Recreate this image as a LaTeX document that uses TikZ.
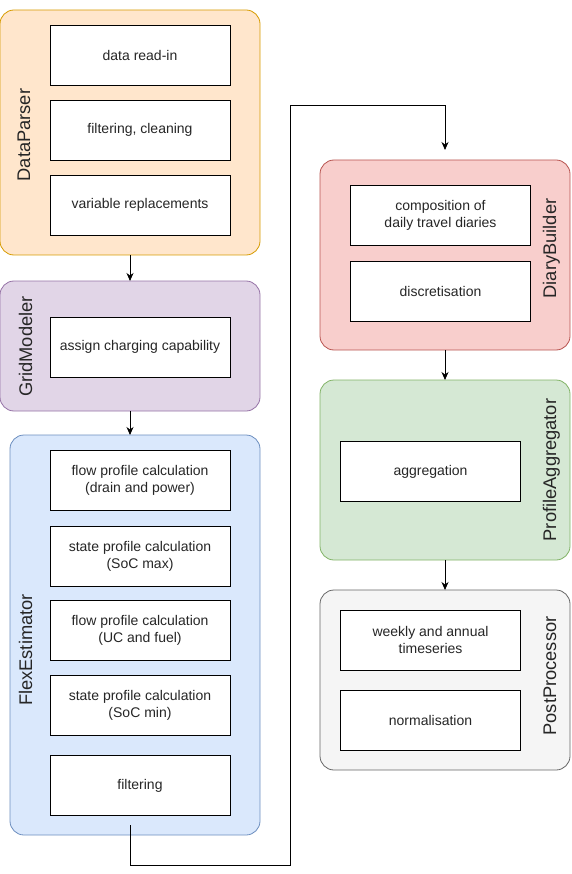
\documentclass[tikz,border=0pt]{standalone}
\usepackage{fontspec}
\setmainfont{Liberation Sans}
\usetikzlibrary{arrows.meta}
\begin{document}
\begin{tikzpicture}[x=1pt,y=-1pt,
  container/.style={draw, line width=0.8pt, rounded corners=14pt, inner sep=0pt, outer sep=0pt},
  step box/.style={draw=black, fill=white, line width=0.8pt, minimum width=180pt, minimum height=60pt,
    inner sep=0pt, align=center, font=\fontsize{14}{16.8}\selectfont, text=black!85},
  lane label/.style={rotate=90, anchor=base, inner sep=0pt, font=\fontsize{18.3}{20}\selectfont, text=black!85},
  arr/.style={draw=black, line width=0.8pt, -{Stealth[length=8pt,width=7pt,inset=2.5pt]}},
  conn/.style={draw=black, line width=0.8pt}]
\useasboundingbox (0,0) rectangle (571,874);

% containers
\node[container, draw={rgb,255:red,215;green,155;blue,0}, fill={rgb,255:red,255;green,230;blue,204},
  minimum width=260pt, minimum height=245pt] (dp) at (130,132.5) {};
\node[container, draw={rgb,255:red,150;green,115;blue,166}, fill={rgb,255:red,225;green,213;blue,231},
  minimum width=260pt, minimum height=130pt] (gm) at (130,346) {};
\node[container, draw={rgb,255:red,108;green,142;blue,191}, fill={rgb,255:red,218;green,232;blue,252},
  minimum width=250pt, minimum height=400pt] (fe) at (135,635) {};
\node[container, draw={rgb,255:red,184;green,84;blue,80}, fill={rgb,255:red,248;green,206;blue,204},
  minimum width=250pt, minimum height=190pt] (db) at (445,255) {};
\node[container, draw={rgb,255:red,130;green,179;blue,102}, fill={rgb,255:red,213;green,232;blue,212},
  minimum width=250pt, minimum height=180pt] (pa) at (445,470) {};
\node[container, draw={rgb,255:red,102;green,102;blue,102}, fill={rgb,255:red,245;green,245;blue,245},
  minimum width=250pt, minimum height=180pt] (pp) at (445,680) {};

% lane labels
\node[lane label] (dpl) at (30,135) {DataParser};
\node[lane label] (gml) at (32,346.5) {GridModeler};
\node[lane label] (fel) at (32,650) {FlexEstimator};
\node[lane label] (dbl) at (556,248.5) {DiaryBuilder};
\node[lane label] (pal) at (556,470) {ProfileAggregator};
\node[lane label] (ppl) at (556,676) {PostProcessor};

% steps
\node[step box] (dp1) at (140,55) {data read-in};
\node[step box] (dp2) at (140,130) {filtering, cleaning};
\node[step box] (dp3) at (140,205) {variable replacements};
\node[step box] (gm1) at (140,347) {assign charging capability};
\node[step box] (fe1) at (140,480) {flow profile calculation\\(drain and power)};
\node[step box] (fe2) at (140,556) {state profile calculation\\(SoC max)};
\node[step box] (fe3) at (140,630.5) {flow profile calculation\\(UC and fuel)};
\node[step box] (fe4) at (140,705.5) {state profile calculation\\(SoC min)};
\node[step box] (fe5) at (140,785.5) {filtering};
\node[step box] (db1) at (440.5,215) {composition of\\daily travel diaries};
\node[step box] (db2) at (440.5,291.5) {discretisation};
\node[step box] (pa1) at (430.5,471.5) {aggregation};
\node[step box] (pp1) at (430.5,640) {weekly and annual\\timeseries};
\node[step box] (pp2) at (430.5,720) {normalisation};

% connectors
\draw[arr] (dp.south) -- (gm.north);
\draw[arr] (gm.south) -- (gm.south |- fe.north);
\coordinate (fs) at (130,825);
\coordinate (dbin) at (445,150);
\draw[arr] (fs) -- (130,865) -- (290.5,865) -- (290.5,105.5) -- (445,105.5) -- (dbin);
\draw[arr] (db.south) -- (pa.north);
\draw[arr] (pa.south) -- (pp.north);
\end{tikzpicture}
\end{document}
